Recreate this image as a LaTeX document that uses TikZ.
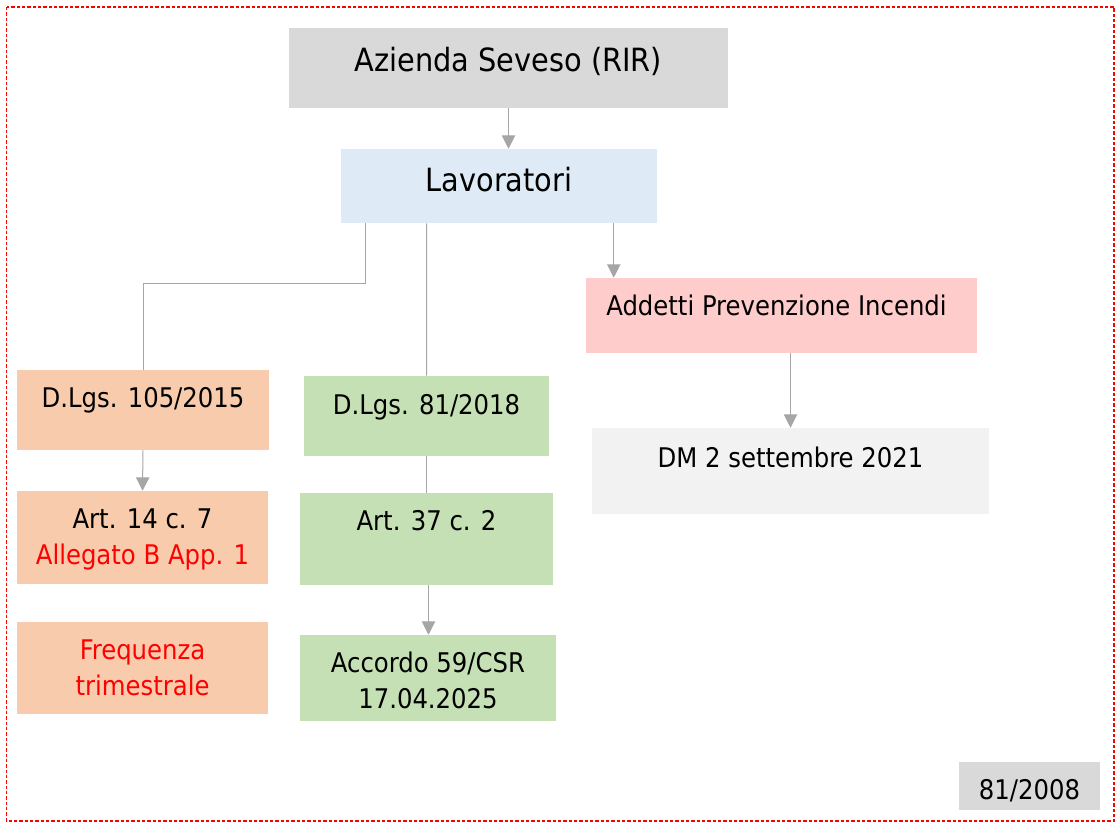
\documentclass[tikz,border=0pt]{standalone}
\usepackage{fontspec}
\setmainfont{DejaVu Sans Condensed}
\usetikzlibrary{arrows.meta, positioning, calc, fit}
\definecolor{boxgray}{HTML}{D9D9D9}
\definecolor{boxblue}{HTML}{DEEBF7}
\definecolor{boxpink}{HTML}{FFCCCC}
\definecolor{boxpale}{HTML}{F2F2F2}
\definecolor{boxorange}{HTML}{F8CBAD}
\definecolor{boxgreen}{HTML}{C5E0B4}
\definecolor{linegray}{HTML}{A6A6A6}
\definecolor{hired}{HTML}{FF0000}
\tikzset{
  blk/.style={inner sep=0pt, draw=none},
  txt/.style={anchor=north, inner sep=0pt, align=center, font=\fontsize{20.3}{27}\selectfont},
  big/.style={txt, font=\fontsize{24}{30}\selectfont},
  lnk/.style={draw=linegray, line width=0.75pt},
  arr/.style={lnk, -{Triangle[width=10pt, length=10pt]}},
  frame/.style={draw=hired, line width=0.9pt, dash pattern=on 2.5pt off 1.5pt}
}

\begin{document}
\begin{tikzpicture}[x=0.75pt, y=-0.75pt]
	\useasboundingbox (0,0) rectangle (1120,828);
	\draw[frame] (6.5,7) rectangle (1114,821);
	% top
	\node[blk, fit={(289,28) (728,108)}, fill=boxgray] (az) {};
	\node[big] (taz) at ($(az.north)+(0,19)$) {Azienda Seveso (RIR)};
	\node[blk, fit={(341,149) (657,223)}, fill=boxblue] (lav) {};
	\node[big] (tlav) at ($(lav.north)+(0,18)$) {Lavoratori};
	% right branch
	\node[blk, fit={(586,278) (977,353)}, fill=boxpink] (add) {};
	\node[txt] (tadd) at ($(add.north)+(-5,17)$) {Addetti Prevenzione Incendi};
	\node[blk, fit={(592,428) (989,514)}, fill=boxpale] (dm) {};
	\node[txt] (tdm) at ($(dm.north)+(0,19)$) {DM 2 settembre 2021};
	% left column
	\node[blk, fit={(17,370) (269,450)}, fill=boxorange] (dl105) {};
	\node[txt] (t105) at ($(dl105.north)+(0,17)$) {D.Lgs. 105/2015};
	\node[blk, fit={(17,491) (268,584)}, fill=boxorange] (art14) {};
	\node[txt] (t14) at ($(art14.north)+(0,18)$) {Art. 14 c. 7\\\textcolor{hired}{Allegato B App. 1}};
	\node[blk, fit={(17,622) (268,714)}, fill=boxorange] (freq) {};
	\node[txt, text=hired] (tfreq) at ($(freq.north)+(0,18)$) {Frequenza\\trimestrale};
	% middle column
	\node[blk, fit={(304,376) (549,456)}, fill=boxgreen] (dl81) {};
	\node[txt] (t81) at ($(dl81.north)+(0,18)$) {D.Lgs. 81/2018};
	\node[blk, fit={(300,493) (553,585)}, fill=boxgreen] (art37) {};
	\node[txt] (t37) at ($(art37.north)+(0,17)$) {Art. 37 c. 2};
	\node[blk, fit={(300,635) (556,721)}, fill=boxgreen] (acc) {};
	\node[txt] (tacc) at ($(acc.north)+(0,17)$) {Accordo 59/CSR\\17.04.2025};
	% corner tag
	\node[blk, fit={(959,762) (1100,810)}, fill=boxgray] (tag) {};
	\node[txt] (ttag) at ($(tag.north)+(0,17)$) {81/2008};
	% connectors
	\draw[arr] (az.south) -- (az.south |- lav.north);
	\draw[lnk] ($(lav.south west)+(25,0)$) |- ($(dl105.north)+(0,-86)$) -- (dl105.north);
	\draw[lnk] ($(lav.south west)+(86,0)$) -- (dl81.north);
	\draw[arr] ($(lav.south west)+(273,0)$) coordinate (lavr) -- (lavr |- add.north);
	\draw[arr] (dm.north |- add.south) -- (dm.north);
	\draw[arr] (dl105.south) -- (art14.north);
	\draw[lnk] (dl81.south) -- (art37.north);
	\draw[arr] ($(art37.south)+(2,0)$) coordinate (a37) -- (a37 |- acc.north);
\end{tikzpicture}
\end{document}
